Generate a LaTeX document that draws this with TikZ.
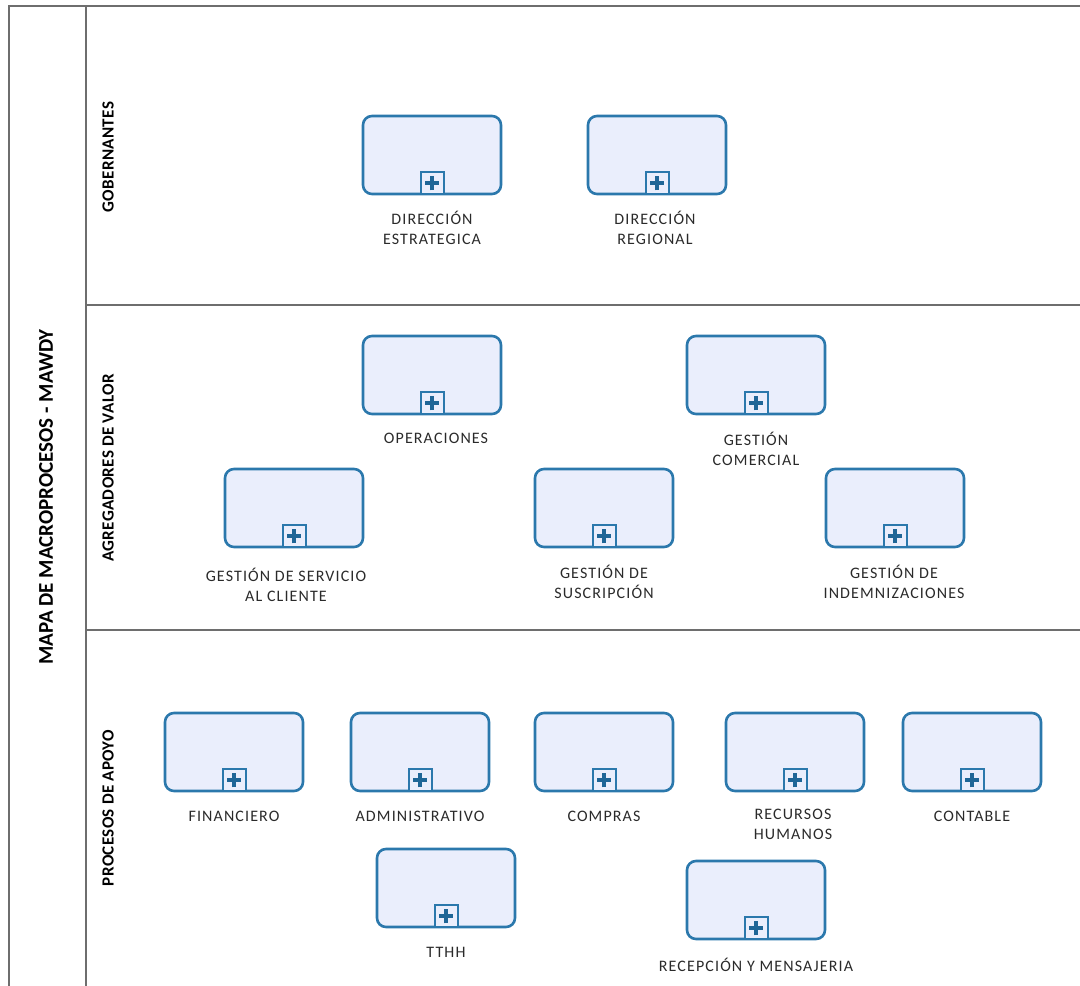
\documentclass[tikz,border=0pt]{standalone}
\usepackage{fontspec}
\setmainfont{Carlito}
\newfontfamily\lblfont[LetterSpace=7]{Carlito}
\newfontfamily\lanefont[LetterSpace=2]{Carlito}
\definecolor{procblue}{HTML}{2B78AC}
\definecolor{procfill}{HTML}{EAEEFC}
\definecolor{markblue}{HTML}{1F6697}
\definecolor{frame}{HTML}{6E6E6E}
\definecolor{txt}{HTML}{2A2A2A}
\tikzset{
  proc/.style={draw=procblue, line width=2.6pt, fill=procfill, rounded corners=9pt,
    minimum width=138pt, minimum height=78pt, inner sep=0pt},
  pmark/.style={draw=procblue, line width=2pt, fill=procfill, minimum width=23pt,
    minimum height=22pt, inner sep=0pt, anchor=south,
    path picture={
      \draw[markblue, line width=4pt] ([xshift=-7pt]path picture bounding box.center) -- ([xshift=7pt]path picture bounding box.center);
      \draw[markblue, line width=4pt] ([yshift=-7pt]path picture bounding box.center) -- ([yshift=7pt]path picture bounding box.center);
    }},
  lbl/.style={align=center, text=txt, inner sep=0pt, font=\lblfont\fontsize{16}{20}\selectfont},
  lane/.style={rotate=90, text=black, inner sep=0pt, font=\lanefont\bfseries\fontsize{17}{19}\selectfont},
  frameline/.style={draw=frame, line width=2pt}
}
\begin{document}
\begin{tikzpicture}[x=1pt, y=-1pt]
\useasboundingbox (0,0) rectangle (1080,986);
% frame
\coordinate (tl) at (9,6);
\coordinate (tr) at (1082,6);
\coordinate (bl) at (9,988);
\coordinate (dtop) at (86,6);
\coordinate (dbot) at (86,988);
\coordinate (h1l) at (86,305);
\coordinate (h1r) at (1082,305);
\coordinate (h2l) at (86,630);
\coordinate (h2r) at (1082,630);
\draw[frameline] (bl) -- (tl) -- (tr);
\draw[frameline] (dtop) -- (dbot);
\draw[frameline] (h1l) -- (h1r);
\draw[frameline] (h2l) -- (h2r);
% titles
\node[rotate=90, inner sep=0pt, font=\bfseries\fontsize{21}{24}\selectfont] (title) at (46,497) {MAPA DE MACROPROCESOS - MAWDY};
\node[lane] (lane1) at (108,157) {GOBERNANTES};
\node[lane] (lane2) at (108,468) {AGREGADORES DE VALOR};
\node[lane] (lane3) at (108,808) {PROCESOS DE APOYO};
% boxes
\foreach \n/\x/\y in {de/432/155, dr/657/155, op/432/375, gc/756/375,
  gs/294/508, su/604/508, gi/895/508,
  fi/234/752, ad/420/752, co/604/752, rh/795/752, ct/972/752,
  tt/446/888, rm/756/900} {
  \node[proc] (\n) at (\x,\y) {};
  \node[pmark] (\n-m) at (\n.south) {};
}
% labels
\node[lbl] (de-l) at (432,228) {DIRECCIÓN\\ESTRATEGICA};
\node[lbl] (dr-l) at (655,228) {DIRECCIÓN\\REGIONAL};
\node[lbl] (op-l) at (436,438) {OPERACIONES};
\node[lbl] (gc-l) at (756,449) {GESTIÓN\\COMERCIAL};
\node[lbl] (gs-l) at (286,585) {GESTIÓN DE SERVICIO\\AL CLIENTE};
\node[lbl] (su-l) at (604,582) {GESTIÓN DE\\SUSCRIPCIÓN};
\node[lbl] (gi-l) at (894,582) {GESTIÓN DE\\INDEMNIZACIONES};
\node[lbl] (fi-l) at (234,816) {FINANCIERO};
\node[lbl] (ad-l) at (420,816) {ADMINISTRATIVO};
\node[lbl] (co-l) at (604,816) {COMPRAS};
\node[lbl] (rh-l) at (793,824) {RECURSOS\\HUMANOS};
\node[lbl] (ct-l) at (972,816) {CONTABLE};
\node[lbl] (tt-l) at (446,952) {TTHH};
\node[lbl] (rm-l) at (756,965) {RECEPCIÓN Y MENSAJERIA};
\end{tikzpicture}
\end{document}
